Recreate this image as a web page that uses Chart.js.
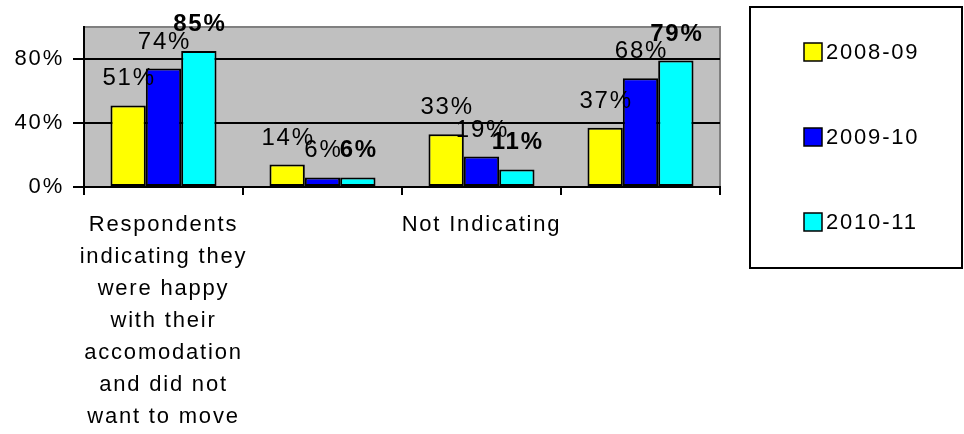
<!DOCTYPE html>
<html>
<head>
<meta charset="utf-8">
<script src="https://cdn.jsdelivr.net/npm/chart.js@4.4.1/dist/chart.umd.min.js"></script>
<style>
html,body{margin:0;padding:0;background:#fff;}
canvas{display:block;}
</style>
</head>
<body>
<canvas id="c" width="964" height="434"></canvas>
<script>
const categories = [
  ["Respondents","indicating they","were happy","with their","accomodation","and did not","want to move"],
  "",
  "Not Indicating",
  ""
];
const seriesNames = ["2008-09","2009-10","2010-11"];
const values2008 = [51, 14, 33, 37];
const values2009 = [74, 6, 19, 68];
const values2010 = [85, 6, 11, 79];
const yTicks = [0, 40, 80];
const colors = ["#FFFF00","#0000FF","#00FFFF"];

const FONT = "'Liberation Sans', Arial, sans-serif";
const SPACING = '1.8px';

const spacingPlugin = {
  id: 'spacing',
  beforeUpdate(chart){ chart.ctx.letterSpacing = SPACING; },
  beforeLayout(chart){ chart.ctx.letterSpacing = SPACING; },
  beforeDraw(chart){ chart.ctx.letterSpacing = SPACING; }
};

const plotBg = {
  id: 'plotBg',
  beforeDraw(chart){
    const {ctx, chartArea:a} = chart;
    ctx.save();
    ctx.fillStyle = '#C0C0C0';
    ctx.fillRect(a.left, a.top, a.right - a.left, a.bottom - a.top);
    ctx.strokeStyle = '#808080';
    ctx.lineWidth = 2;
    ctx.beginPath();
    ctx.moveTo(a.left, a.top);
    ctx.lineTo(a.right, a.top);
    ctx.lineTo(a.right, a.bottom);
    ctx.stroke();
    ctx.restore();
  }
};

const valueLabels = {
  id: 'valueLabels',
  afterDatasetsDraw(chart){
    const ctx = chart.ctx;
    ctx.save();
    ctx.letterSpacing = SPACING;
    ctx.fillStyle = '#000';
    ctx.textAlign = 'center';
    ctx.textBaseline = 'alphabetic';
    chart.data.datasets.forEach((ds, di) => {
      const meta = chart.getDatasetMeta(di);
      ctx.font = (di === 2 ? 'bold ' : '') + '24px ' + FONT;
      meta.data.forEach((el, i) => {
        ctx.fillText(ds.data[i] + '%', el.x + 1, el.y - 20);
      });
    });
    ctx.restore();
  }
};

const boxLegend = {
  id: 'boxLegend',
  afterDraw(chart){
    const ctx = chart.ctx;
    ctx.save();
    ctx.letterSpacing = SPACING;
    ctx.strokeStyle = '#000';
    ctx.lineWidth = 2;
    ctx.strokeRect(750, 7, 212, 261);
    ctx.font = '22px ' + FONT;
    ctx.textAlign = 'left';
    ctx.textBaseline = 'middle';
    chart.data.datasets.forEach((ds, i) => {
      const cy = 52 + i * 85;
      ctx.fillStyle = ds.backgroundColor;
      ctx.fillRect(804, cy - 9, 18, 18);
      ctx.lineWidth = 1.5;
      ctx.strokeStyle = '#000';
      ctx.strokeRect(804, cy - 9, 18, 18);
      ctx.fillStyle = '#000';
      ctx.fillText(ds.label, 826, cy + 1);
    });
    ctx.restore();
  }
};

new Chart(document.getElementById('c'), {
  type: 'bar',
  data: {
    labels: categories,
    datasets: [
      {label: seriesNames[0], data: values2008, backgroundColor: colors[0]},
      {label: seriesNames[1], data: values2009, backgroundColor: colors[1]},
      {label: seriesNames[2], data: values2010, backgroundColor: colors[2]}
    ].map(d => Object.assign(d, {borderColor:'#000', borderWidth:2, borderSkipped:false, categoryPercentage:0.667, barPercentage:1}))
  },
  options: {
    responsive: false,
    devicePixelRatio: 1,
    animation: false,
    layout: {padding: {left: 0, top: 27, right: 244, bottom: 0}},
    plugins: {legend: {display: false}, tooltip: {enabled: false}},
    scales: {
      x: {
        grid: {offset: true, drawOnChartArea: false, drawTicks: true, tickLength: 8, color: '#000', lineWidth: 2},
        border: {color: '#000', width: 2},
        ticks: {autoSkip: false, maxRotation: 0, minRotation: 0, padding: 14, color: '#000',
                font: {family: FONT, size: 22, lineHeight: 1.455}},
        afterFit(scale){ scale.height = 247; }
      },
      y: {
        min: 0, max: 100,
        grid: {color: '#000', lineWidth: 2, tickLength: 11},
        border: {color: '#000', width: 2},
        ticks: {stepSize: 40, padding: 9, color: '#000', font: {family: FONT, size: 22},
                callback: v => v + '%'},
        afterBuildTicks(scale){ scale.ticks = yTicks.map(v => ({value: v})); },
        afterFit(scale){ scale.width = 84; }
      }
    }
  },
  plugins: [spacingPlugin, plotBg, valueLabels, boxLegend]
});
</script>
</body>
</html>
